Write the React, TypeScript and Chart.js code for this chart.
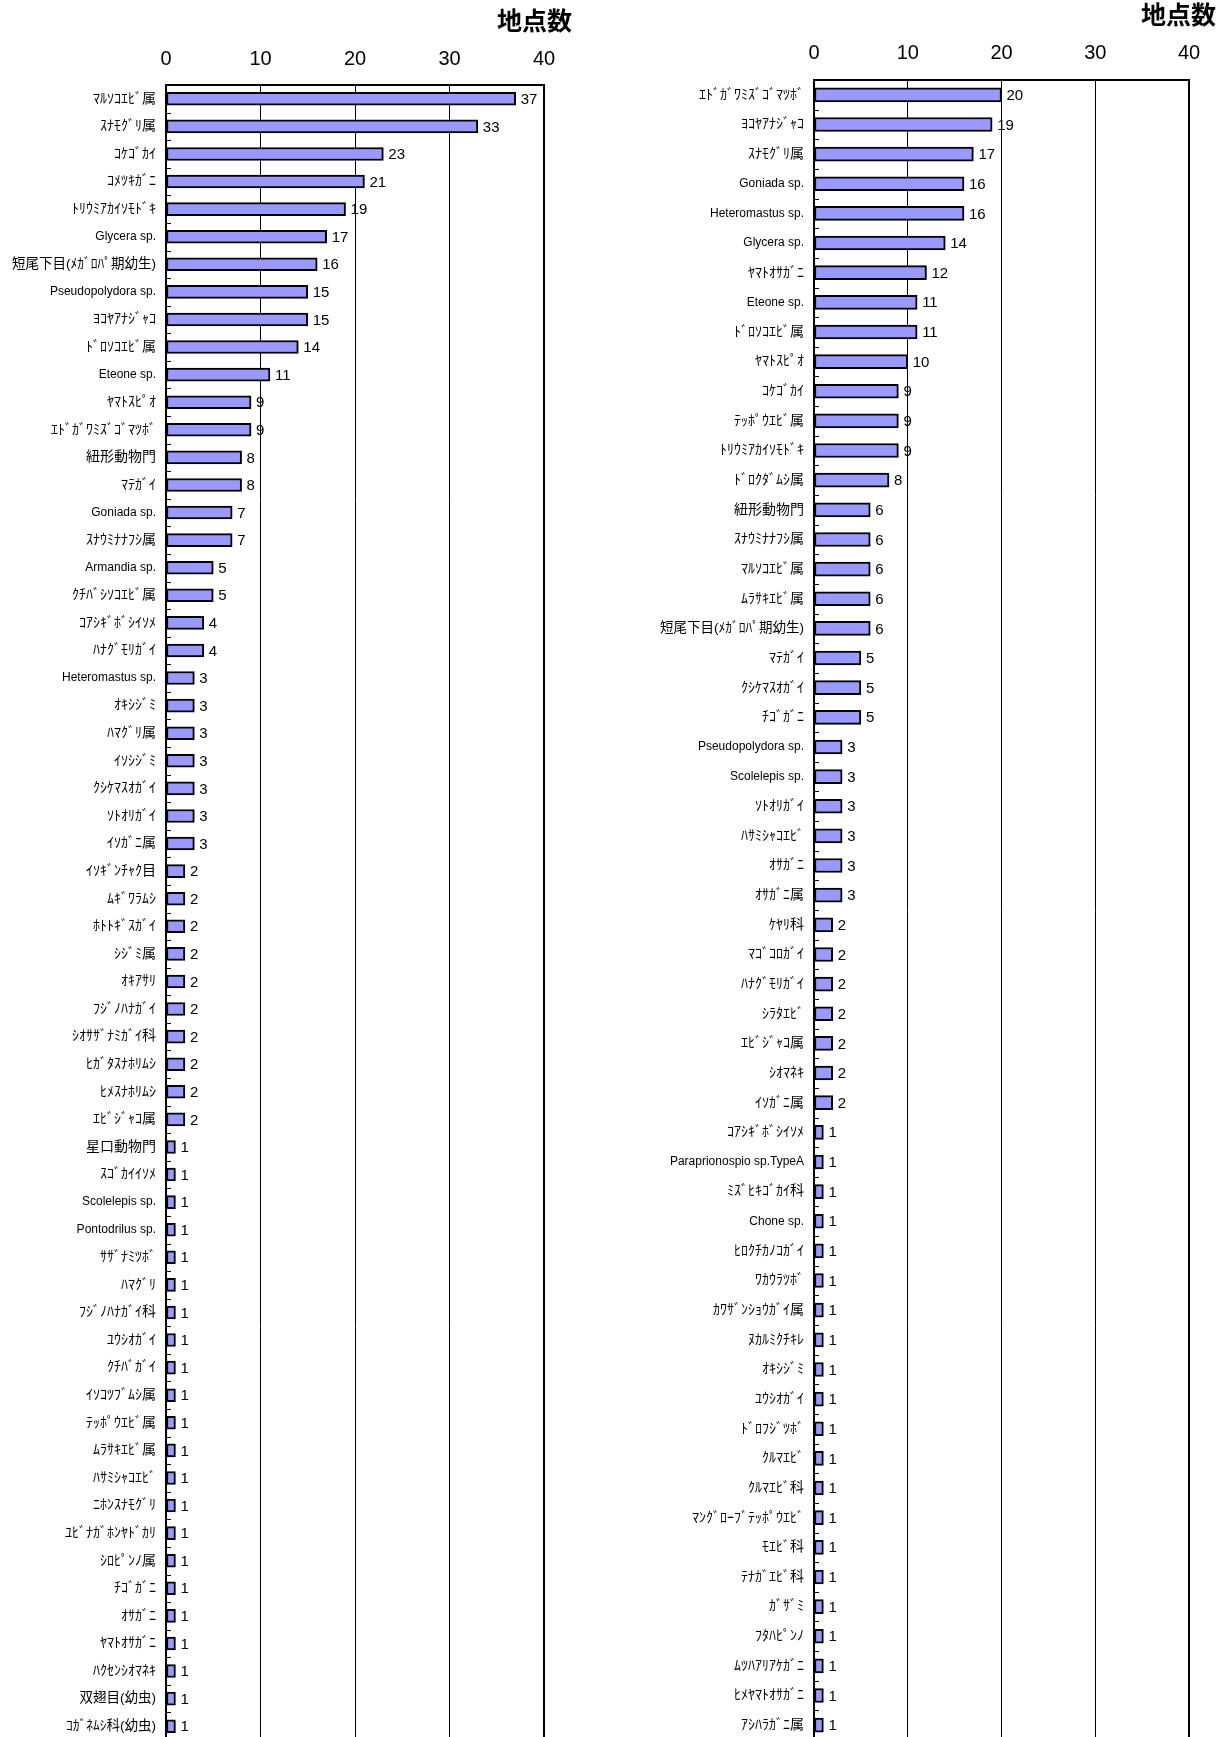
import React, { useEffect, useRef } from "react";
import { Chart, registerables } from "chart.js";

Chart.register(...registerables);

const axisTitle = "地点数";
const xMin = 0;
const xMax = 40;
const xStep = 10;

const leftLabels = [
  "ﾏﾙｿｺｴﾋﾞ属", "ｽﾅﾓｸﾞﾘ属", "ｺｹｺﾞｶｲ", "ｺﾒﾂｷｶﾞﾆ", "ﾄﾘｳﾐｱｶｲｿﾓﾄﾞｷ",
  "Glycera sp.", "短尾下目(ﾒｶﾞﾛﾊﾟ期幼生)", "Pseudopolydora sp.", "ﾖｺﾔｱﾅｼﾞｬｺ", "ﾄﾞﾛｿｺｴﾋﾞ属",
  "Eteone sp.", "ﾔﾏﾄｽﾋﾟｵ", "ｴﾄﾞｶﾞﾜﾐｽﾞｺﾞﾏﾂﾎﾞ", "紐形動物門", "ﾏﾃｶﾞｲ",
  "Goniada sp.", "ｽﾅｳﾐﾅﾅﾌｼ属", "Armandia sp.", "ｸﾁﾊﾞｼｿｺｴﾋﾞ属", "ｺｱｼｷﾞﾎﾞｼｲｿﾒ",
  "ﾊﾅｸﾞﾓﾘｶﾞｲ", "Heteromastus sp.", "ｵｷｼｼﾞﾐ", "ﾊﾏｸﾞﾘ属", "ｲｿｼｼﾞﾐ",
  "ｸｼｹﾏｽｵｶﾞｲ", "ｿﾄｵﾘｶﾞｲ", "ｲｿｶﾞﾆ属", "ｲｿｷﾞﾝﾁｬｸ目", "ﾑｷﾞﾜﾗﾑｼ",
  "ﾎﾄﾄｷﾞｽｶﾞｲ", "ｼｼﾞﾐ属", "ｵｷｱｻﾘ", "ﾌｼﾞﾉﾊﾅｶﾞｲ", "ｼｵｻｻﾞﾅﾐｶﾞｲ科",
  "ﾋｶﾞﾀｽﾅﾎﾘﾑｼ", "ﾋﾒｽﾅﾎﾘﾑｼ", "ｴﾋﾞｼﾞｬｺ属", "星口動物門", "ｽｺﾞｶｲｲｿﾒ",
  "Scolelepis sp.", "Pontodrilus sp.", "ｻｻﾞﾅﾐﾂﾎﾞ", "ﾊﾏｸﾞﾘ", "ﾌｼﾞﾉﾊﾅｶﾞｲ科",
  "ﾕｳｼｵｶﾞｲ", "ｸﾁﾊﾞｶﾞｲ", "ｲｿｺﾂﾌﾞﾑｼ属", "ﾃｯﾎﾟｳｴﾋﾞ属", "ﾑﾗｻｷｴﾋﾞ属",
  "ﾊｻﾐｼｬｺｴﾋﾞ", "ﾆﾎﾝｽﾅﾓｸﾞﾘ", "ﾕﾋﾞﾅｶﾞﾎﾝﾔﾄﾞｶﾘ", "ｼﾛﾋﾟﾝﾉ属", "ﾁｺﾞｶﾞﾆ",
  "ｵｻｶﾞﾆ", "ﾔﾏﾄｵｻｶﾞﾆ", "ﾊｸｾﾝｼｵﾏﾈｷ", "双翅目(幼虫)", "ｺｶﾞﾈﾑｼ科(幼虫)",
];
const leftValues = [
  37, 33, 23, 21, 19,
  17, 16, 15, 15, 14,
  11, 9, 9, 8, 8,
  7, 7, 5, 5, 4,
  4, 3, 3, 3, 3,
  3, 3, 3, 2, 2,
  2, 2, 2, 2, 2,
  2, 2, 2, 1, 1,
  1, 1, 1, 1, 1,
  1, 1, 1, 1, 1,
  1, 1, 1, 1, 1,
  1, 1, 1, 1, 1,
];

const rightLabels = [
  "ｴﾄﾞｶﾞﾜﾐｽﾞｺﾞﾏﾂﾎﾞ", "ﾖｺﾔｱﾅｼﾞｬｺ", "ｽﾅﾓｸﾞﾘ属", "Goniada sp.", "Heteromastus sp.",
  "Glycera sp.", "ﾔﾏﾄｵｻｶﾞﾆ", "Eteone sp.", "ﾄﾞﾛｿｺｴﾋﾞ属", "ﾔﾏﾄｽﾋﾟｵ",
  "ｺｹｺﾞｶｲ", "ﾃｯﾎﾟｳｴﾋﾞ属", "ﾄﾘｳﾐｱｶｲｿﾓﾄﾞｷ", "ﾄﾞﾛｸﾀﾞﾑｼ属", "紐形動物門",
  "ｽﾅｳﾐﾅﾅﾌｼ属", "ﾏﾙｿｺｴﾋﾞ属", "ﾑﾗｻｷｴﾋﾞ属", "短尾下目(ﾒｶﾞﾛﾊﾟ期幼生)", "ﾏﾃｶﾞｲ",
  "ｸｼｹﾏｽｵｶﾞｲ", "ﾁｺﾞｶﾞﾆ", "Pseudopolydora sp.", "Scolelepis sp.", "ｿﾄｵﾘｶﾞｲ",
  "ﾊｻﾐｼｬｺｴﾋﾞ", "ｵｻｶﾞﾆ", "ｵｻｶﾞﾆ属", "ｹﾔﾘ科", "ﾏｺﾞｺﾛｶﾞｲ",
  "ﾊﾅｸﾞﾓﾘｶﾞｲ", "ｼﾗﾀｴﾋﾞ", "ｴﾋﾞｼﾞｬｺ属", "ｼｵﾏﾈｷ", "ｲｿｶﾞﾆ属",
  "ｺｱｼｷﾞﾎﾞｼｲｿﾒ", "Paraprionospio sp.TypeA", "ﾐｽﾞﾋｷｺﾞｶｲ科", "Chone sp.", "ﾋﾛｸﾁｶﾉｺｶﾞｲ",
  "ﾜｶｳﾗﾂﾎﾞ", "ｶﾜｻﾞﾝｼｮｳｶﾞｲ属", "ﾇｶﾙﾐｸﾁｷﾚ", "ｵｷｼｼﾞﾐ", "ﾕｳｼｵｶﾞｲ",
  "ﾄﾞﾛﾌｼﾞﾂﾎﾞ", "ｸﾙﾏｴﾋﾞ", "ｸﾙﾏｴﾋﾞ科", "ﾏﾝｸﾞﾛｰﾌﾞﾃｯﾎﾟｳｴﾋﾞ", "ﾓｴﾋﾞ科",
  "ﾃﾅｶﾞｴﾋﾞ科", "ｶﾞｻﾞﾐ", "ﾌﾀﾊﾋﾟﾝﾉ", "ﾑﾂﾊｱﾘｱｹｶﾞﾆ", "ﾋﾒﾔﾏﾄｵｻｶﾞﾆ",
  "ｱｼﾊﾗｶﾞﾆ属",
];
const rightValues = [
  20, 19, 17, 16, 16,
  14, 12, 11, 11, 10,
  9, 9, 9, 8, 6,
  6, 6, 6, 6, 5,
  5, 5, 3, 3, 3,
  3, 3, 3, 2, 2,
  2, 2, 2, 2, 2,
  1, 1, 1, 1, 1,
  1, 1, 1, 1, 1,
  1, 1, 1, 1, 1,
  1, 1, 1, 1, 1,
  1,
];

const LABEL_FAMILY = '"Liberation Sans", "Noto Sans CJK JP", sans-serif';
const CANVAS_H = 1740;

const isLatin = (s: string) => /^[\x20-\x7E]+$/.test(s);
const hasParen = (s: string) => s.indexOf("(") >= 0;

type PanelProps = {
  labels: string[];
  values: number[];
  left: number;
  width: number;
  plotLeft: number;
  plotTop: number;
  padRight: number;
  barThickness: number;
  titleY: number;
  tickPad: number;
};

function Panel(p: PanelProps) {
  const ref = useRef<HTMLCanvasElement>(null);
  useEffect(() => {
    const canvas = ref.current;
    if (!canvas) return;

    const valueLabels = {
      id: "valueLabels",
      afterDatasetsDraw(chart: any) {
        const ctx = chart.ctx;
        const meta = chart.getDatasetMeta(0);
        const data = chart.data.datasets[0].data as number[];
        ctx.save();
        ctx.fillStyle = "#000";
        ctx.font = '15px "Liberation Sans", sans-serif';
        ctx.textAlign = "left";
        ctx.textBaseline = "middle";
        meta.data.forEach((bar: any, i: number) => {
          ctx.fillText(String(data[i]), bar.x + 5, bar.y + 1);
        });
        ctx.restore();
      },
    };

    const innerTicks = {
      id: "innerTicks",
      afterDraw(chart: any) {
        const ctx = chart.ctx;
        const y = chart.scales.y;
        const left = chart.chartArea.left;
        const n = chart.data.labels.length;
        ctx.save();
        ctx.strokeStyle = "#000";
        ctx.lineWidth = 1;
        for (let i = 1; i <= n; i++) {
          const a = y.getPixelForValue(i - 1);
          const b = i < n ? y.getPixelForValue(i) : a + (a - y.getPixelForValue(i - 2));
          const yy = Math.round((a + b) / 2) + 0.5;
          ctx.beginPath();
          ctx.moveTo(left, yy);
          ctx.lineTo(left + 5, yy);
          ctx.stroke();
        }
        ctx.restore();
      },
    };

    const axisTitlePlugin = {
      id: "axisTitlePlugin",
      afterDraw(chart: any) {
        const ctx = chart.ctx;
        ctx.save();
        ctx.fillStyle = "#000";
        ctx.font = 'bold 25px "Noto Sans CJK JP", sans-serif';
        ctx.textAlign = "right";
        ctx.textBaseline = "middle";
        ctx.fillText(axisTitle, chart.chartArea.right + p.padRight, p.titleY);
        ctx.restore();
      },
    };

    const chart = new Chart(canvas, {
      type: "bar",
      data: {
        labels: p.labels,
        datasets: [
          {
            data: p.values,
            backgroundColor: "#9999FF",
            borderColor: "#000000",
            borderWidth: 2,
            borderSkipped: false,
            barThickness: p.barThickness,
          },
        ],
      },
      options: {
        indexAxis: "y",
        animation: false,
        responsive: false,
        maintainAspectRatio: false,
        layout: { padding: { top: 0, right: p.padRight, bottom: 0, left: 0 } },
        plugins: {
          legend: { display: false },
          tooltip: { enabled: false },
          title: { display: false },
        },
        scales: {
          x: {
            position: "top",
            min: xMin,
            max: xMax,
            ticks: {
              stepSize: xStep,
              color: "#000",
              font: { family: '"Liberation Sans", sans-serif', size: 20 },
              padding: p.tickPad,
            },
            grid: {
              color: "#000",
              lineWidth: (c: any) => (c.tick && c.tick.value === xMax ? 2 : 1),
              drawTicks: false,
            },
            border: { display: true, color: "#000", width: 2 },
            afterFit: (s: any) => {
              s.height = p.plotTop;
            },
          },
          y: {
            ticks: {
              autoSkip: false,
              color: "#000",
              font: (c: any) => {
                const lbl = p.labels[c.index] || "";
                const size = isLatin(lbl) ? 12 : hasParen(lbl) ? 13.5 : 14;
                return { family: LABEL_FAMILY, size };
              },
              padding: 10,
            },
            grid: { display: false, drawTicks: false },
            border: { display: true, color: "#000", width: 2 },
            afterFit: (s: any) => {
              s.width = p.plotLeft;
              s.paddingTop = 0;
              s.paddingBottom = 0;
            },
          },
        },
      } as any,
      plugins: [valueLabels, innerTicks, axisTitlePlugin],
    });
    return () => chart.destroy();
  }, []);

  return (
    <canvas
      ref={ref}
      width={p.width}
      height={CANVAS_H}
      style={{ position: "absolute", left: p.left, top: 0, display: "block" }}
    />
  );
}

export default function App() {
  return (
    <div
      style={{
        position: "fixed",
        left: 0,
        top: 0,
        width: 1223,
        height: 1737,
        overflow: "hidden",
        background: "#fff",
      }}
    >
      <Panel
        labels={leftLabels}
        values={leftValues}
        left={0}
        width={572}
        plotLeft={166}
        plotTop={85}
        padRight={28}
        barThickness={13}
        titleY={20}
        tickPad={14}
      />
      <Panel
        labels={rightLabels}
        values={rightValues}
        left={600}
        width={616}
        plotLeft={214}
        plotTop={80}
        padRight={27}
        barThickness={14}
        titleY={14}
        tickPad={15}
      />
    </div>
  );
}
